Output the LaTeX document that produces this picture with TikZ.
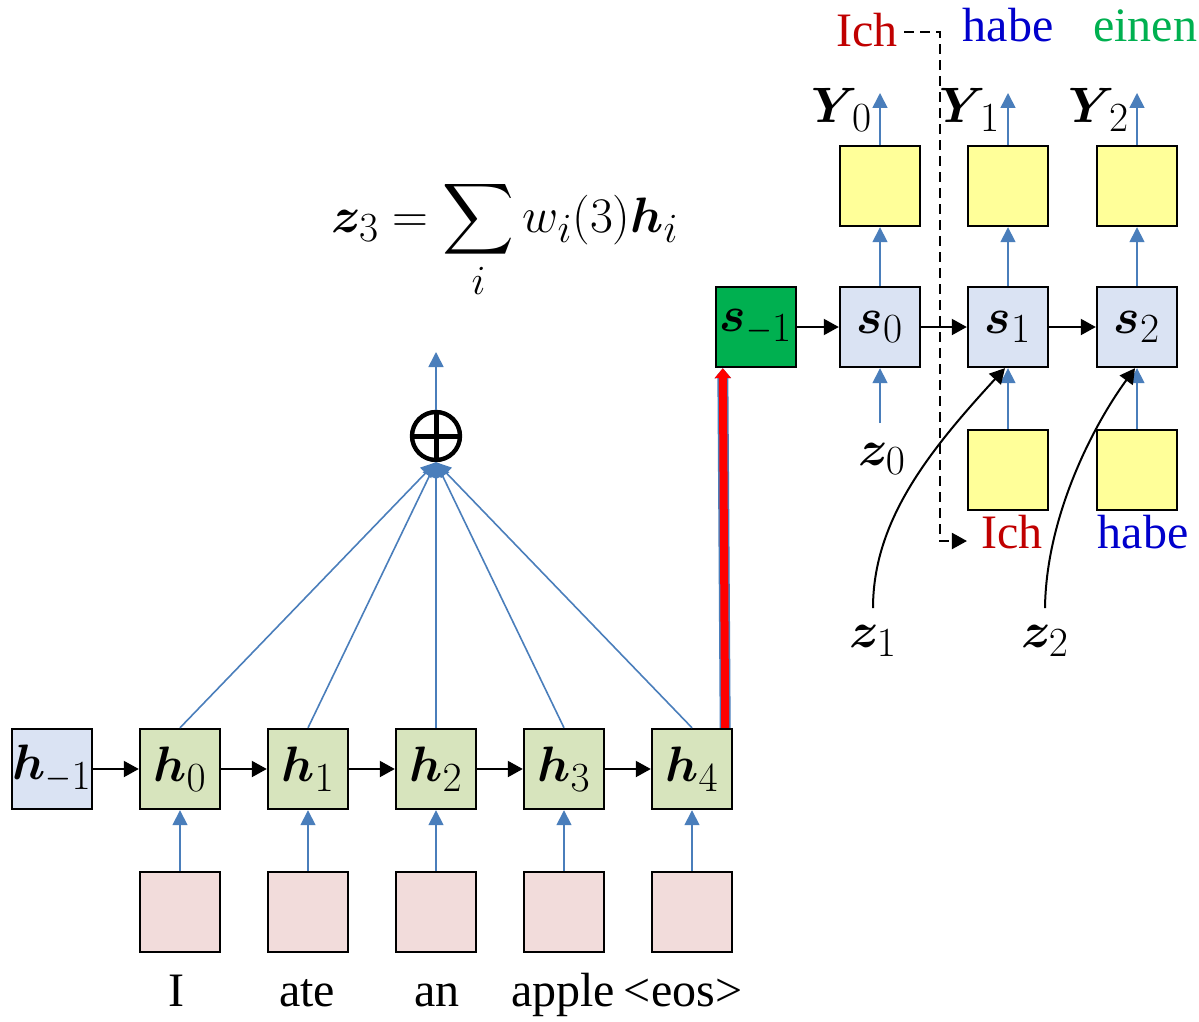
\documentclass[tikz,border=0pt]{standalone}
\usepackage{amsmath}
\usepackage{bm}
\usepackage{graphicx}
\usepackage{fontspec}
\setmainfont{Liberation Serif}
\DeclareMathSizes{24}{24}{21}{16}
\usetikzlibrary{arrows.meta}

\definecolor{hblue}{HTML}{DAE3F3}
\definecolor{hgreen}{HTML}{D7E4BD}
\definecolor{inpink}{HTML}{F2DCDB}
\definecolor{outyellow}{HTML}{FFFF99}
\definecolor{sgreen}{HTML}{00B050}
\definecolor{lineblue}{HTML}{4A7EBB}
\definecolor{wordred}{HTML}{C00000}
\definecolor{wordblue}{HTML}{0000CC}
\definecolor{wordgreen}{HTML}{00B050}

\newcommand{\shortminus}{\scalebox{0.8}[1]{$\scriptstyle -$}}

\begin{document}
\begin{tikzpicture}[x=0.5pt,y=-0.5pt,
    every node/.style={font=\fontsize{24}{28}\selectfont},
    cell/.style={draw,line width=1.2pt,minimum size=40pt,inner sep=0pt},
    bluearrow/.style={draw=lineblue,line width=0.8pt,-{Triangle[length=7.5pt,width=7.5pt]}},
    blackarrow/.style={line width=1pt,-{Triangle[length=7.5pt,width=8pt]}},
    word/.style={inner sep=3pt,anchor=base}]
    \useasboundingbox (0,0) rectangle (1199,1022);

    % encoder
    \node[cell,fill=hblue] (hm1) at (52,769) {\makebox[0pt]{$\boldsymbol{h}_{\shortminus 1}$}};
    \foreach \i/\x/\w/\wx in {0/180/I/176,1/308/ate/307,2/436/an/437,3/564/apple/563,4/692/{<eos>}/683} {
      \node[cell,fill=hgreen] (h\i) at (\x,769) {$\boldsymbol{h}_\i$};
      \node[cell,fill=inpink] (x\i) at (\x,912) {};
      \node[word] (w\i) at (\wx,1006) {\w};
      \draw[bluearrow] (x\i) -- (h\i);
    }
    \draw[blackarrow] (hm1) -- (h0);
    \foreach \i/\j in {0/1,1/2,2/3,3/4}
      \draw[blackarrow] (h\i) -- (h\j);

    % attention sum
    \node[circle,draw,line width=2.2pt,minimum size=24pt,inner sep=0pt,
      path picture={\draw[line width=2.5pt]
        (path picture bounding box.north) -- (path picture bounding box.south)
        (path picture bounding box.west) -- (path picture bounding box.east);}]
      (plus) at (436,436) {};
    \foreach \i in {0,...,4}
      \draw[bluearrow] (h\i.north) -- (plus.south);
    \coordinate (sumout) at (436,352);
    \draw[bluearrow] (plus.north) -- (sumout);
    \node[anchor=base] (zsum) at (505,232)
      {$\boldsymbol{z}_3 = \displaystyle\sum_i w_i(3)\boldsymbol{h}_i$};

    % decoder
    \node[cell,fill=sgreen] (sm1) at (756,327) {\makebox[0pt]{$\boldsymbol{s}_{\shortminus 1}$}};
    \foreach \i/\x in {0/880,1/1008,2/1137} {
      \node[cell,fill=hblue] (s\i) at (\x,327) {$\boldsymbol{s}_\i$};
      \node[cell,fill=outyellow] (y\i) at (\x,186) {};
      \coordinate (yo\i) at (\x,93);
      \node (ylab\i) at (\x-38,110) {$\boldsymbol{Y}_{\,\i}$};
      \draw[bluearrow] (s\i) -- (y\i);
      \draw[bluearrow] (y\i.north) -- (yo\i);
    }
    \draw[blackarrow] (sm1) -- (s0);
    \draw[blackarrow] (s0) -- (s1);
    \draw[blackarrow] (s1) -- (s2);
    \draw[red,line width=4pt,preaction={draw=lineblue,line width=5.5pt},
      -{Triangle[length=5pt,width=8pt]}]
      ([xshift=-4pt]h4.north east) -- ([xshift=4pt]sm1.south west);

    % decoder inputs
    \node[cell,fill=outyellow] (e1) at (1008,470) {};
    \node[cell,fill=outyellow] (e2) at (1137,470) {};
    \draw[bluearrow] (e1) -- (s1);
    \draw[bluearrow] (e2) -- (s2);
    \coordinate (zin0) at (880,423);
    \draw[bluearrow] (zin0) -- (s0.south);
    \node (z0) at (882,459) {$\boldsymbol{z}_0$};
    \node (z1) at (873,641) {$\boldsymbol{z}_1$};
    \node (z2) at (1045,641) {$\boldsymbol{z}_2$};
    \draw[blackarrow] ([yshift=5pt]z1.north) .. controls (873,520) and (930,450) .. ([xshift=-1.5pt]s1.south);
    \draw[blackarrow] ([yshift=5pt]z2.north) .. controls (1046,520) and (1090,430) .. ([xshift=-1pt]s2.south);

    % words
    \node[word,text=wordred] (ichtop) at (867,47) {Ich};
    \node[word,text=wordblue] (habetop) at (1008,42) {habe};
    \node[word,text=wordgreen] (einentop) at (1145,42) {einen};
    \node[word,text=wordred] (ichbot) at (1012,548) {Ich};
    \node[word,text=wordblue] (habebot) at (1143,548) {habe};
    \coordinate (dturn) at (940,541);
    \draw[line width=1pt,dash pattern=on 5pt off 3pt,-{Triangle[length=7.5pt,width=8pt]},shorten >=4pt]
      (ichtop.east |- 0,32) -| (dturn) -- (ichbot.west |- dturn);
\end{tikzpicture}
\end{document}
